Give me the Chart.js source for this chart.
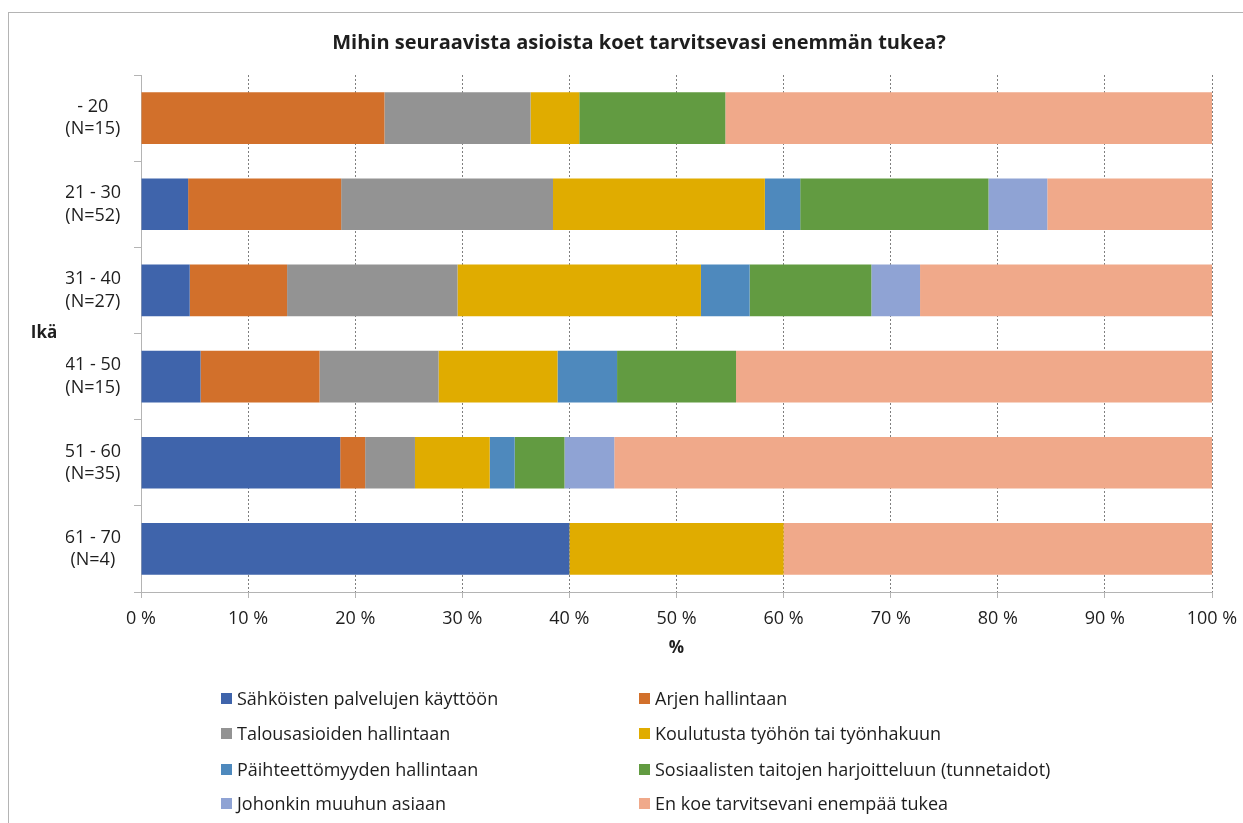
<!DOCTYPE html>
<html lang="fi">
<head>
<meta charset="utf-8">
<title>Tuen tarve ikäryhmittäin</title>
<script src="https://cdn.jsdelivr.net/npm/chart.js@4.4.1/dist/chart.umd.min.js"></script>
<style>
  html, body { margin: 0; padding: 0; background: #fff; }
  #wrap { position: relative; width: 1243px; height: 823px; overflow: hidden; font-family: "Open Sans", sans-serif; }
  #frame { position: absolute; left: 8px; top: 12px; width: 1260px; height: 840px; border: 1px solid #b4b4b4; box-sizing: border-box; }
  #plot { position: absolute; left: 0; top: 0; width: 1243px; height: 680px; }
  #legend { position: absolute; left: 0; top: 0; width: 1243px; height: 823px; pointer-events: none; }
  .item { position: absolute; display: flex; align-items: center; height: 26px; font-size: 18px; color: #1e1e1e; white-space: nowrap; }
  .item span.box { display: inline-block; width: 11px; height: 11px; margin-right: 5px; }
</style>
</head>
<body>
<div id="wrap">
  <div id="frame"></div>
  <div id="plot"><canvas id="chart"></canvas></div>
  <div id="legend"></div>
</div>
<script>
// age groups (with respondent counts)
const ageGroups = [
  ['- 20', '(N=15)'],
  ['21 - 30', '(N=52)'],
  ['31 - 40', '(N=27)'],
  ['41 - 50', '(N=15)'],
  ['51 - 60', '(N=35)'],
  ['61 - 70', '(N=4)']
];

// share of answers per age group, %
const sahkoisetPalvelut = [0, 4.40, 4.55, 5.56, 18.60, 40];
const arjenHallinta     = [22.73, 14.29, 9.09, 11.11, 2.33, 0];
const talousasiat       = [13.64, 19.78, 15.91, 11.11, 4.65, 0];
const koulutusTyo       = [4.55, 19.78, 22.73, 11.11, 6.98, 20];
const paihteettomyys    = [0, 3.30, 4.55, 5.56, 2.33, 0];
const sosiaalisetTaidot = [13.64, 17.58, 11.36, 11.11, 4.65, 0];
const muuAsia           = [0, 5.49, 4.55, 0, 4.65, 0];
const eiTarvetta        = [45.45, 15.38, 27.27, 44.44, 55.81, 40];

const xTicks = [0, 10, 20, 30, 40, 50, 60, 70, 80, 90, 100];

const seriesNames = [
  'Sähköisten palvelujen käyttöön',
  'Arjen hallintaan',
  'Talousasioiden hallintaan',
  'Koulutusta työhön tai työnhakuun',
  'Päihteettömyyden hallintaan',
  'Sosiaalisten taitojen harjoitteluun (tunnetaidot)',
  'Johonkin muuhun asiaan',
  'En koe tarvitsevani enempää tukea'
];
const seriesValues = [sahkoisetPalvelut, arjenHallinta, talousasiat, koulutusTyo,
  paihteettomyys, sosiaalisetTaidot, muuAsia, eiTarvetta];
const seriesColors = ['#3f64ab', '#d2702b', '#939393', '#e0ac00',
  '#4e89bd', '#629b41', '#8fa3d4', '#f0a98a'];

const textColor = '#1e1e1e';
const fontFamily = '"Open Sans"';

// horizontal "Ikä" caption left of the category labels
const yCaption = {
  id: 'yCaption',
  afterDraw(chart) {
    const ctx = chart.ctx;
    ctx.save();
    ctx.font = 'bold 17px ' + fontFamily;
    ctx.fillStyle = textColor;
    ctx.textAlign = 'center';
    ctx.textBaseline = 'middle';
    ctx.fillText('Ikä', 44, 333);
    ctx.restore();
  }
};

const chart = new Chart(document.getElementById('chart'), {
  type: 'bar',
  data: {
    labels: ageGroups,
    datasets: seriesNames.map((name, i) => ({
      label: name,
      data: seriesValues[i],
      backgroundColor: seriesColors[i],
      borderWidth: 0,
      categoryPercentage: 1,
      barPercentage: 0.6
    }))
  },
  options: {
    indexAxis: 'y',
    responsive: true,
    maintainAspectRatio: false,
    animation: false,
    // left padding + y axis width = 141, keeps the title centred on the frame
    layout: { padding: { left: 66, right: 31, top: 0, bottom: 0 } },
    plugins: {
      legend: { display: false },
      tooltip: { enabled: false },
      title: {
        display: true,
        text: 'Mihin seuraavista asioista koet tarvitsevasi enemmän tukea?',
        color: textColor,
        font: { family: fontFamily, size: 20, weight: 'bold' },
        padding: { top: 31, bottom: 20 }
      }
    },
    scales: {
      x: {
        stacked: true,
        min: 0,
        max: 100,
        afterBuildTicks: (scale) => { scale.ticks = xTicks.map(v => ({ value: v })); },
        afterFit: (scale) => {
          scale.height = 88;
          // end labels may overhang into the layout padding
          scale.paddingLeft = 0;
          scale.paddingRight = 0;
        },
        ticks: {
          color: textColor,
          padding: 10,
          font: { family: fontFamily, size: 18 },
          callback: (v) => v + ' %'
        },
        grid: {
          color: '#7f7f7f',
          lineWidth: 1,
          drawTicks: true,
          tickLength: 6,
          tickColor: '#b4b4b4'
        },
        border: { display: true, color: '#b4b4b4', width: 1, dash: [2, 2] },
        title: {
          display: true,
          text: '%',
          color: textColor,
          font: { family: fontFamily, size: 17, weight: 'bold' },
          padding: { top: 0, bottom: 22 }
        }
      },
      y: {
        stacked: true,
        afterFit: (scale) => { scale.width = 75; },
        ticks: {
          color: textColor,
          crossAlign: 'center',
          padding: 13,
          font: { family: fontFamily, size: 18, lineHeight: 1.25 }
        },
        grid: {
          drawOnChartArea: false,
          drawTicks: true,
          tickLength: 7,
          color: '#b4b4b4'
        },
        border: { display: true, color: '#b4b4b4', width: 1 }
      }
    }
  },
  plugins: [yCaption]
});

// two-column legend under the chart, built from the datasets
const legendBox = document.getElementById('legend');
const colLeft = [221, 639];
const rowMid = [698, 733, 769, 803];
chart.data.datasets.forEach((ds, i) => {
  const item = document.createElement('div');
  item.className = 'item';
  item.style.left = colLeft[i % 2] + 'px';
  item.style.top = (rowMid[Math.floor(i / 2)] - 13) + 'px';
  const box = document.createElement('span');
  box.className = 'box';
  box.style.background = ds.backgroundColor;
  item.appendChild(box);
  item.appendChild(document.createTextNode(ds.label));
  legendBox.appendChild(item);
});
</script>
</body>
</html>
